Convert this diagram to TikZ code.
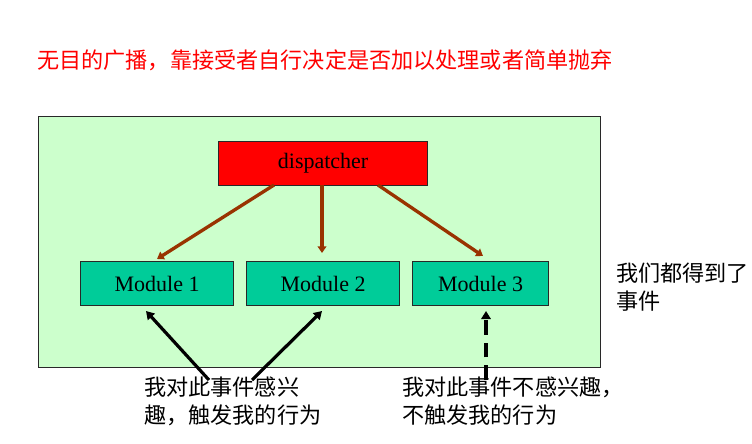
\documentclass[tikz,border=0pt]{standalone}
\usepackage{fontspec}
\setmainfont{Liberation Serif}
\newfontfamily\cjk{Noto Sans CJK SC}
\usetikzlibrary{arrows.meta}
\definecolor{bggreen}{RGB}{204,255,204}
\definecolor{modgreen}{RGB}{0,204,153}
\definecolor{brownarr}{RGB}{153,51,0}
\definecolor{boxedge}{RGB}{40,40,40}
\tikzset{
  box/.style={draw=boxedge, line width=0.9pt, minimum height=44*0.75pt, inner sep=0pt,
    font=\fontsize{16.5}{20}\selectfont},
  modbox/.style={box, fill=modgreen},
  disp/.style={box, fill=red},
  brownline/.style={draw=brownarr, line width=2.5pt, -{Triangle[length=5pt,width=6.5pt]}},
  blackline/.style={draw=black, line width=2.4pt, -{Triangle[length=6pt,width=7pt]}},
  cjktext/.style={font=\cjk\fontsize{16.6}{20.5}\selectfont, align=left, inner sep=0pt, anchor=north west},
}
\begin{document}
\begin{tikzpicture}[x=0.75pt,y=-0.75pt]
\useasboundingbox (0,0) rectangle (752,443);
\node[cjktext, text=red, anchor=west] (title) at (37,60) {无目的广播，靠接受者自行决定是否加以处理或者简单抛弃};
\node[draw=boxedge, line width=0.8pt, fill=bggreen, minimum width=562*0.75pt, minimum height=251*0.75pt, inner sep=0pt, anchor=north west] (frame) at (38,116) {};
\node[disp, minimum width=209*0.75pt, anchor=north west] (d) at (218,141) {dispatcher};
\node[modbox, minimum width=153*0.75pt, anchor=north west] (m1) at (80,261) {Module 1};
\node[modbox, minimum width=153*0.75pt, anchor=north west] (m2) at (246,261) {Module 2};
\node[modbox, minimum width=136*0.75pt, anchor=north west] (m3) at (412,261) {Module 3};
\coordinate (d1) at (274,185);
\coordinate (d2) at (322,185);
\coordinate (d3) at (378,185);
\coordinate (t1) at (157,259);
\coordinate (t2) at (322,253);
\coordinate (t3) at (483,256);
\draw[brownline] (d1) -- (t1);
\draw[brownline] (d2) -- (t2);
\draw[brownline] (d3) -- (t3);
\node[cjktext] (lt) at (144,377) {我对此事件感兴\\趣，触发我的行为};
\node[cjktext] (rt) at (402,377) {我对此事件不感兴趣，\\不触发我的行为};
\node[cjktext] (st) at (616,263) {我们都得到了\\事件};
\coordinate (a1) at (209,380);
\coordinate (a2) at (252,380);
\coordinate (a3) at (486,380);
\coordinate (h1) at (146,311);
\coordinate (h2) at (322,311);
\coordinate (h3) at (486,311);
\draw[blackline] (a1) -- (h1);
\draw[blackline] (a2) -- (h2);
\draw[blackline, dash pattern=on 11pt off 6pt] (a3) -- (h3);
\end{tikzpicture}
\end{document}
